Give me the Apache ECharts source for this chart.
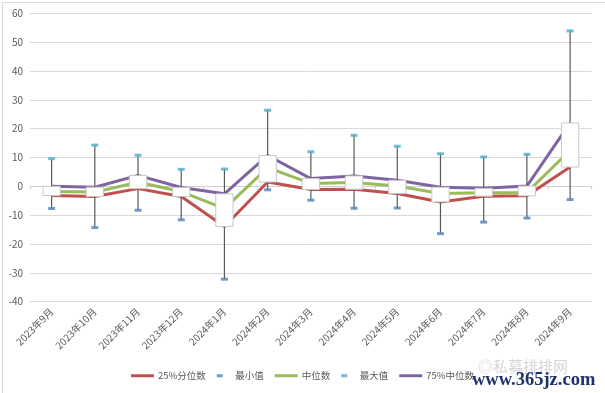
<!DOCTYPE html>
<html><head><meta charset="utf-8">
<script src="https://cdn.jsdelivr.net/npm/echarts@6/dist/echarts.min.js"></script>
<style>html,body{margin:0;padding:0;background:#fff}#c{width:605px;height:393px}</style>
</head><body><div id="c"></div>
<script>
const categories = ['2023年9月','2023年10月','2023年11月','2023年12月','2024年1月','2024年2月','2024年3月','2024年4月','2024年5月','2024年6月','2024年7月','2024年8月','2024年9月'];
const p25Values    = [-3.2, -3.5, -0.8, -3.5, -13.9, 1.5, -1.1, -1.0, -2.5, -5.4, -3.4, -3.3, 6.7];
const minValues    = [-7.7, -14.3, -8.3, -11.6, -32.2, -1.2, -4.8, -7.6, -7.5, -16.4, -12.4, -11.0, -4.6];
const medianValues = [-1.8, -2.0, 1.4, -1.8, -7.7, 6.5, 1.0, 1.3, 0.1, -2.5, -2.2, -2.2, 12.5];
const maxValues    = [9.6, 14.3, 10.8, 5.9, 6.0, 26.4, 12.0, 17.7, 13.9, 11.3, 10.2, 11.1, 53.9];
const p75Values    = [0.0, -0.3, 3.8, -0.4, -2.6, 10.7, 2.7, 3.6, 2.1, -0.3, -0.7, 0.1, 22.0];
const yTicks = {min: -40, max: 60, interval: 10};

const FONT = '"Noto Sans CJK SC", "Noto Sans", sans-serif';
const chart = echarts.init(document.getElementById('c'), null, {renderer: 'canvas'});
const boxData = categories.map((c, i) => [i, minValues[i], p25Values[i], p75Values[i], maxValues[i]]);

const lineIcon = 'path://M0,0H23V3H0Z';
const dashIcon = 'path://M0,0H6V3H0Z';

const option = {
  animation: false,
  backgroundColor: '#fff',
  textStyle: {fontFamily: FONT},
  grid: {left: 30, right: 13.3, top: 13.3, bottom: 91.3},
  xAxis: [
    {type: 'category', data: categories, position: 'bottom',
     axisLine: {show: false, onZero: false}, axisTick: {show: false},
     axisLabel: {rotate: 45, margin: 8, fontSize: 10, color: '#595959', interval: 0, fontFamily: FONT},
     splitLine: {show: false}},
    {type: 'category', data: categories, position: 'bottom',
     axisLine: {show: true, onZero: true, lineStyle: {color: '#d0d0d0', width: 1}},
     axisTick: {show: true, length: 3, lineStyle: {color: '#d0d0d0'}},
     axisLabel: {show: false}, splitLine: {show: false}}
  ],
  yAxis: {type: 'value', min: yTicks.min, max: yTicks.max, interval: yTicks.interval,
    axisLine: {show: false}, axisTick: {show: false},
    axisLabel: {fontSize: 10, color: '#595959', margin: 7, fontFamily: FONT},
    splitLine: {lineStyle: {color: '#d9d9d9', width: 1}}},
  legend: {
    top: 366, left: 'center', itemWidth: 23, itemHeight: 3, itemGap: 11,
    textStyle: {fontSize: 9.5, color: '#595959', fontFamily: FONT, padding: [0, 0, 0, -1]},
    data: [
      {name: '25%分位数', icon: lineIcon},
      {name: '最小值', icon: dashIcon},
      {name: '中位数', icon: lineIcon},
      {name: '最大值', icon: dashIcon},
      {name: '75%中位数', icon: lineIcon}
    ]
  },
  series: [
    {name: '25%分位数', type: 'line', data: p25Values, symbol: 'none', z: 2,
     itemStyle: {color: '#C0504D'}, lineStyle: {color: '#C0504D', width: 3}},
    {name: '最小值', type: 'scatter', data: minValues, symbol: 'rect', symbolSize: [7, 3], z: 5,
     itemStyle: {color: '#4F81BD'}},
    {name: '中位数', type: 'line', data: medianValues, symbol: 'none', z: 2,
     itemStyle: {color: '#9BBB59'}, lineStyle: {color: '#9BBB59', width: 3}},
    {name: '最大值', type: 'scatter', data: maxValues, symbol: 'rect', symbolSize: [7, 3], z: 5,
     itemStyle: {color: '#4BACC6'}},
    {name: '75%中位数', type: 'line', data: p75Values, symbol: 'none', z: 2,
     itemStyle: {color: '#8064A2'}, lineStyle: {color: '#8064A2', width: 3}},
    {name: 'hilo', type: 'custom', z: 3, data: boxData,
     encode: {x: 0, y: [1, 2, 3, 4]},
     renderItem: function (params, api) {
       const i = api.value(0);
       const pMin = api.coord([i, api.value(1)]);
       const pA = api.coord([i, api.value(2)]);
       const pB = api.coord([i, api.value(3)]);
       const pMax = api.coord([i, api.value(4)]);
       const w = api.size([1, 0])[0] * 0.4;
       const top = Math.min(pA[1], pB[1]);
       const h = Math.abs(pA[1] - pB[1]);
       return {type: 'group', children: [
         {type: 'line', shape: {x1: pMax[0], y1: pMax[1], x2: pMin[0], y2: pMin[1]},
          style: {stroke: '#595959', lineWidth: 1.2}},
         {type: 'rect', shape: {x: pA[0] - w / 2, y: top, width: w, height: h},
          style: {fill: '#ffffff', stroke: '#c8c8c8', lineWidth: 1}}
       ]};
     }}
  ],
  graphic: [
    {type: 'rect', left: 0, top: 0, shape: {x: 0.5, y: 0.5, width: 604, height: 392},
     style: {fill: 'none', stroke: '#d9d9d9', lineWidth: 1}, silent: true},
    {type: 'text', left: 478, top: 359, style: {text: '◎私募排排网', font: '15px "Noto Sans CJK SC"', fill: 'rgba(150,150,150,0.4)'}},
    {type: 'text', left: 472, top: 371, style: {text: 'www.365jz.com', font: 'bold 18.5px "Liberation Serif"', fill: '#1d3370'}}
  ]
};
chart.setOption(option);
</script>
</body></html>
